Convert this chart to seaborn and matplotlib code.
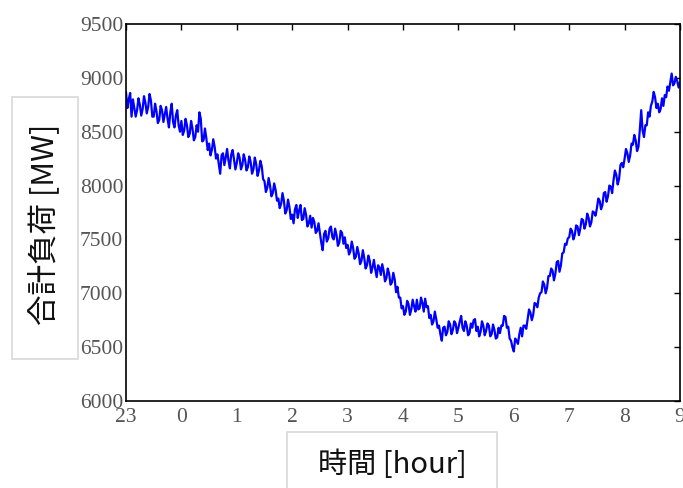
import numpy as np
import pandas as pd
import seaborn as sns
import matplotlib
matplotlib.use("Agg")
import matplotlib.pyplot as plt
from matplotlib.patches import Rectangle

# Total system load sampled every 1.5 minutes, 23:00 -> 09:00 (one row = 30 min)
load_mw = [
    8870, 8720, 8800, 8860, 8640, 8800, 8720, 8640, 8700, 8810, 8750, 8650, 8710, 8830, 8770, 8670, 8730, 8850, 8790, 8640,
    8640, 8760, 8690, 8580, 8610, 8740, 8700, 8590, 8660, 8730, 8620, 8540, 8680, 8760, 8590, 8540, 8650, 8700, 8560, 8500,
    8600, 8470, 8510, 8620, 8560, 8450, 8480, 8600, 8530, 8420, 8450, 8560, 8500, 8680, 8620, 8410, 8420, 8530, 8440, 8330,
    8390, 8280, 8330, 8430, 8360, 8250, 8290, 8200, 8110, 8280, 8300, 8190, 8260, 8340, 8230, 8160, 8290, 8330, 8240, 8150,
    8210, 8300, 8260, 8150, 8190, 8290, 8240, 8140, 8170, 8270, 8220, 8110, 8150, 8260, 8200, 8090, 8140, 8230, 8180, 8060,
    8040, 7940, 7980, 8070, 8000, 7900, 7930, 8020, 7960, 7860, 7880, 7790, 7830, 7930, 7860, 7740, 7770, 7870, 7800, 7690,
    7730, 7650, 7780, 7820, 7700, 7770, 7820, 7680, 7690, 7790, 7730, 7620, 7650, 7720, 7610, 7700, 7660, 7560, 7580, 7650,
    7560, 7470, 7400, 7550, 7580, 7480, 7510, 7600, 7620, 7520, 7500, 7600, 7540, 7440, 7470, 7580, 7560, 7460, 7520, 7420,
    7450, 7360, 7390, 7480, 7420, 7320, 7340, 7430, 7370, 7270, 7300, 7400, 7330, 7230, 7260, 7350, 7300, 7190, 7240, 7310,
    7220, 7150, 7260, 7240, 7170, 7270, 7210, 7110, 7140, 7230, 7180, 7080, 7100, 7190, 7130, 7010, 7060, 6960, 6960, 6860,
    6880, 6800, 6830, 6930, 6900, 6800, 6850, 6940, 6880, 6830, 6940, 6850, 6860, 6960, 6910, 6830, 6950, 6870, 6880, 6770,
    6800, 6710, 6740, 6830, 6760, 6680, 6700, 6620, 6560, 6680, 6690, 6610, 6640, 6740, 6710, 6620, 6660, 6740, 6720, 6630,
    6680, 6740, 6790, 6680, 6650, 6740, 6700, 6610, 6630, 6720, 6680, 6750, 6760, 6650, 6690, 6600, 6640, 6740, 6700, 6610,
    6650, 6720, 6700, 6600, 6620, 6710, 6660, 6580, 6590, 6680, 6630, 6700, 6700, 6790, 6780, 6680, 6690, 6580, 6560, 6500,
    6460, 6580, 6560, 6530, 6620, 6680, 6600, 6700, 6700, 6670, 6760, 6850, 6820, 6750, 6800, 6910, 6900, 6870, 6960, 7000,
    7010, 7110, 7080, 7000, 7050, 7160, 7160, 7230, 7210, 7120, 7180, 7290, 7300, 7200, 7260, 7370, 7380, 7460, 7450, 7510,
    7520, 7600, 7580, 7500, 7540, 7630, 7620, 7540, 7600, 7690, 7680, 7600, 7640, 7740, 7700, 7620, 7660, 7760, 7750, 7720,
    7790, 7880, 7860, 7780, 7820, 7930, 7940, 7850, 7900, 8000, 7990, 7930, 8050, 8140, 8100, 8010, 8060, 8190, 8210, 8170,
    8250, 8340, 8300, 8220, 8280, 8390, 8380, 8470, 8420, 8320, 8360, 8520, 8700, 8510, 8450, 8560, 8560, 8680, 8640, 8740,
    8780, 8870, 8820, 8720, 8760, 8680, 8710, 8810, 8740, 8840, 8820, 8920, 8880, 8960, 9040, 8930, 8950, 9010, 8970, 8910,
    8960,
]
step_minutes = 1.5
hour_labels = ["23", "0", "1", "2", "3", "4", "5", "6", "7", "8", "9"]
y_ticks = [6000, 6500, 7000, 7500, 8000, 8500, 9000, 9500]

df = pd.DataFrame({
    "hours": np.arange(len(load_mw)) * step_minutes / 60.0,
    "load": load_mw,
})

sns.set_style("white")
plt.rcParams["font.family"] = ["Noto Sans CJK JP", "DejaVu Sans"]

fig = plt.figure(figsize=(6.83, 4.88), dpi=100)
ax = fig.add_axes([126 / 683, 1 - 401 / 488, 554 / 683, 377 / 488])

sns.lineplot(data=df, x="hours", y="load", ax=ax, color="#0000ff",
             linewidth=1.6, estimator=None)

ax.set_xlim(0, 10)
ax.set_ylim(6000, 9500)
ax.set_xticks(range(len(hour_labels)))
ax.set_xticklabels(hour_labels)
ax.set_yticks(y_ticks)
ax.set_xlabel("")
ax.set_ylabel("")

for side in ["left", "right", "top", "bottom"]:
    ax.spines[side].set_visible(True)
    ax.spines[side].set_color("black")
    ax.spines[side].set_linewidth(1.2)

ax.tick_params(axis="both", direction="in", length=4.5, width=1.0,
               top=True, right=True, colors="black",
               labelcolor="#555555", labelsize=15.5)
ax.tick_params(axis="x", pad=5)
ax.tick_params(axis="y", pad=2)
for lab in ax.get_xticklabels() + ax.get_yticklabels():
    lab.set_family("Liberation Serif")

# Axis titles set in framed boxes
fig.patches.append(Rectangle((12 / 683, 1 - 359 / 488), 66 / 683, 262 / 488,
                             transform=fig.transFigure, facecolor="white",
                             edgecolor="#d8d8d8", linewidth=1.2))
fig.text(44 / 683, 1 - 224 / 488, "合計負荷 [MW]", rotation=90,
         ha="center", va="center", fontsize=22, color="#111111")

fig.patches.append(Rectangle((287 / 683, -0.05), 210 / 683, 0.05 + 56 / 488,
                             transform=fig.transFigure, facecolor="white",
                             edgecolor="#d8d8d8", linewidth=1.2))
fig.text(392 / 683, 1 - 465 / 488, "時間 [hour]",
         ha="center", va="center", fontsize=21, color="#111111")

fig.savefig("out.png", dpi=100)
